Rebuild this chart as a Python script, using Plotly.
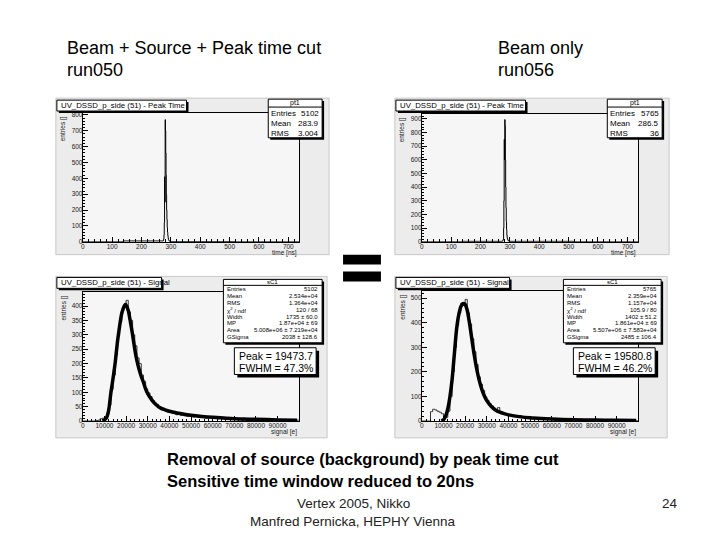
import plotly.graph_objects as go

FONT = "Liberation Sans, Arial, sans-serif"

# ---------------- data ----------------
# Peak time histograms (1 ns bins, bin centres)
time_bins = [274, 275, 276, 277, 278, 279, 280, 281, 282, 283, 284, 285, 286,
             287, 288, 289, 290, 291, 292, 293, 294, 295, 296, 297, 298, 299]
time_counts_run050 = [5, 10, 20, 45, 120, 410, 250, 770, 700, 560, 420, 300, 200,
                      140, 90, 60, 40, 25, 15, 10, 8, 6, 4, 3, 2, 1]
time_counts_run056 = [3, 5, 8, 12, 20, 100, 300, 750, 600, 895, 850, 600, 400,
                      250, 150, 90, 50, 30, 20, 15, 10, 8, 6, 5, 4, 3]

# Signal histograms (1000 e bins, centres 500 ... 99500)
signal_bins = [500 + 1000 * i for i in range(100)]
signal_counts_run050 = [
    0, 0, 0, 0, 0, 0, 2, 3, 8, 10,
    8, 22, 55, 110, 160, 230, 295, 345, 385, 400,
    420, 380, 350, 300, 262, 220, 200, 160, 138, 112,
    98, 85, 72, 62, 58, 48, 42, 40, 35, 32,
    30, 28, 26, 22, 24, 20, 19, 18, 16, 17,
    15, 14, 16, 13, 12, 13, 11, 10, 11, 12,
    9, 10, 8, 9, 11, 8, 7, 9, 8, 7,
    7, 6, 8, 6, 10, 5, 6, 7, 5, 6,
    5, 6, 4, 5, 6, 4, 5, 3, 4, 5,
    4, 3, 4, 3, 4, 2, 3, 3, 2, 3]
signal_counts_run056 = [
    0, 0, 0, 0, 38, 48, 45, 40, 36, 30,
    20, 15, 40, 100, 200, 300, 390, 440, 480, 470,
    495, 440, 395, 335, 282, 230, 180, 150, 125, 98,
    85, 72, 62, 52, 45, 55, 38, 34, 30, 28,
    25, 24, 22, 20, 18, 22, 16, 15, 14, 13,
    12, 12, 11, 10, 11, 9, 9, 8, 9, 8,
    8, 7, 7, 6, 7, 6, 6, 5, 6, 5,
    5, 5, 4, 5, 4, 4, 5, 3, 4, 4,
    3, 4, 3, 3, 3, 2, 3, 3, 2, 3,
    2, 2, 3, 2, 2, 2, 1, 2, 2, 1]

# Landau (x) Gauss fit curves
fit_x = [9000, 10000, 11000, 12000, 13000, 14000, 15000, 16000, 17000, 18000,
         19000, 19500, 20000, 21000, 22000, 23000, 24000, 25000, 26000, 27000,
         28000, 29000, 30000, 32000, 34000, 36000, 38000, 40000, 45000, 50000,
         55000, 60000, 70000, 80000, 90000, 99000]
fit_run050 = [1, 4, 12, 40, 100, 150, 205, 275, 330, 375,
              398, 405, 403, 385, 345, 300, 250, 210, 180, 155,
              135, 112, 95, 72, 56, 45, 39, 34, 26, 20,
              16, 13, 8, 6, 4, 3]
fit_run056 = [1, 5, 20, 50, 100, 170, 270, 370, 430, 465,
              478, 478, 475, 450, 400, 340, 280, 228, 185, 150,
              122, 100, 83, 60, 45, 36, 30, 25, 18, 13,
              10, 8, 5, 4, 3, 2]

time_stats_run050 = [("Entries", "5102"), ("Mean", "283.9"), ("RMS", "3.004")]
time_stats_run056 = [("Entries", "5765"), ("Mean", "286.5"), ("RMS", "36")]
sig_stats_run050 = [("Entries", "5102"), ("Mean", "2.534e+04"), ("RMS", "1.364e+04"),
                    ("χ<sup>2</sup> / ndf", "120 / 68"), ("Width", "1735 ± 60.0"),
                    ("MP", "1.87e+04 ± 69"), ("Area", "5.008e+06 ± 7.219e+04"),
                    ("GSigma", "2038 ± 128.6")]
sig_stats_run056 = [("Entries", "5765"), ("Mean", "2.359e+04"), ("RMS", "1.157e+04"),
                    ("χ<sup>2</sup> / ndf", "105.9 / 80"), ("Width", "1402 ± 51.2"),
                    ("MP", "1.861e+04 ± 69"), ("Area", "5.507e+06 ± 7.583e+04"),
                    ("GSigma", "2485 ± 106.4")]
peak_run050 = ("Peak = 19473.7", "FWHM = 47.3%")
peak_run056 = ("Peak = 19580.8", "FWHM = 46.2%")

# ---------------- helpers ----------------
# the page has an 8 px body margin, so the figure is 704x524 placed at (8, 8);
# all layout coordinates below are given in page pixels of the 720x540 window
OFF = 8
W, H = 720 - 2 * OFF, 540 - 2 * OFF
def px(x): return (x - OFF) / W
def py(y): return 1 - (y - OFF) / H

shapes = []
annotations = []

def rect(x0, y0, x1, y1, fill, line="black", lw=1, layer="above"):
    shapes.append(dict(type="rect", xref="paper", yref="paper",
                       x0=px(x0), x1=px(x1), y0=py(y1), y1=py(y0),
                       fillcolor=fill, line=dict(color=line, width=lw), layer=layer))

def hline(x0, x1, y, lw=1):
    shapes.append(dict(type="line", xref="paper", yref="paper",
                       x0=px(x0), x1=px(x1), y0=py(y), y1=py(y),
                       line=dict(color="black", width=lw)))

def text(x, y, s, size, xanchor="left", yanchor="middle", bold=False, color="black", angle=0):
    if bold:
        s = "<b>" + s + "</b>"
    annotations.append(dict(xref="paper", yref="paper", x=px(x), y=py(y), text=s,
                            showarrow=False, xanchor=xanchor, yanchor=yanchor,
                            font=dict(size=size, family=FONT, color=color),
                            textangle=angle, borderpad=0))

fig = go.Figure()

panels = [
    dict(ax="", box=(81, 112, 298, 242), outer=(54, 97, 328, 255), kind="time",
         title=(55, 99, 185, 110, "UV_DSSD_p_side (51) - Peak Time"),
         stats=(267, 98, 321, 137, "pt1", time_stats_run050),
         x=time_bins, y=time_counts_run050, yr=812, ydt=100, ymin=20),
    dict(ax="2", box=(421, 113, 638, 242), outer=(394, 97, 669, 255), kind="time",
         title=(395, 99, 525, 110, "UV_DSSD_p_side (51) - Peak Time"),
         stats=(607, 98, 662, 137, "pt1", time_stats_run056),
         x=time_bins, y=time_counts_run056, yr=936, ydt=100, ymin=20),
    dict(ax="3", box=(81, 293, 298, 423), outer=(54, 277, 326, 440), kind="sig",
         title=(55, 278, 160, 289, "UV_DSSD_p_side (51) - Signal"),
         stats=(222, 280, 321, 344, "sC1", sig_stats_run050),
         peak=(233, 349, 315, 376, peak_run050),
         x=signal_bins, y=signal_counts_run050, fit=fit_run050, yr=448, ydt=50, ymin=10),
    dict(ax="4", box=(421, 292, 638, 423), outer=(394, 277, 667, 440), kind="sig",
         title=(395, 278, 509, 289, "UV_DSSD_p_side (51) - Signal"),
         stats=(563, 280, 661, 344, "sC1", sig_stats_run056),
         peak=(573, 349, 655, 376, peak_run056),
         x=signal_bins, y=signal_counts_run056, fit=fit_run056, yr=528, ydt=100, ymin=20),
]

axis_common = dict(showgrid=False, zeroline=False, showline=True, linecolor="black",
                   linewidth=1, mirror=True, ticks="inside", ticklen=5, tickwidth=1,
                   tickcolor="black", ticklabelstandoff=-2,
                   tickfont=dict(size=6.5, family=FONT, color="#222"))

layout_axes = {}
for p in panels:
    x0, y0, x1, y1 = p["box"]
    ox0, oy0, ox1, oy1 = p["outer"]
    rect(ox0, oy0, ox1, oy1, "#ececec", line="#c8c8c8", lw=1, layer="below")
    rect(x0, y0, x1, y1, "#f6f6f6", line="rgba(0,0,0,0)", lw=0, layer="below")

    xa = "x" + p["ax"]
    ya = "y" + p["ax"]
    if p["kind"] == "time":
        xr, xdt, xmin = 737, 100, 20
        hx = [0] + p["x"] + [737]
        hy = [0] + p["y"] + [0]
        fig.add_trace(go.Scatter(x=hx, y=hy, mode="lines", line=dict(color="black", width=1, shape="hvh"),
                                 xaxis=xa, yaxis=ya, showlegend=False, hoverinfo="skip"))
        xlabel = "time [ns]"
    else:
        xr, xdt, xmin = 99950, 10000, 2000
        hx = [0] + p["x"] + [99950]
        hy = [0] + p["y"] + [p["y"][-1]]
        fig.add_trace(go.Scatter(x=hx, y=hy, mode="lines", line=dict(color="#333", width=1, shape="hvh"),
                                 xaxis=xa, yaxis=ya, showlegend=False, hoverinfo="skip"))
        fig.add_trace(go.Scatter(x=fit_x, y=p["fit"], mode="lines",
                                 line=dict(color="black", width=3.5, shape="spline", smoothing=0.6),
                                 xaxis=xa, yaxis=ya, showlegend=False, hoverinfo="skip"))
        xlabel = "signal [e]"

    key = p["ax"]
    layout_axes["xaxis" + key] = dict(axis_common, domain=[px(x0), px(x1)], range=[0, xr],
                                      anchor=ya, dtick=xdt, tick0=0, tickformat="d",
                                      minor=dict(ticks="inside", ticklen=2.5, tickcolor="black", dtick=xmin))
    layout_axes["yaxis" + key] = dict(axis_common, domain=[py(y1), py(y0)], range=[0, p["yr"]],
                                      anchor=xa, dtick=p["ydt"], tick0=0, tickformat="d",
                                      minor=dict(ticks="inside", ticklen=2.5, tickcolor="black", dtick=p["ymin"]))

    # axis titles
    text(x1 - 1, y1 + 11, xlabel, 6.5, xanchor="right", color="#222")
    text(ox0 + 8, y0 + 2, "entries []", 6.5, xanchor="center", yanchor="top", color="#222", angle=-90)

    # title box with shadow
    tx0, ty0, tx1, ty1, ttl = p["title"]
    rect(tx0 + 2, ty0 + 2, tx1 + 2, ty1 + 2, "black", line="black", lw=0)
    rect(tx0, ty0, tx1, ty1, "white", line="black", lw=1)
    text(tx0 + 3, (ty0 + ty1) / 2, ttl, 7.8)

    # stats box
    sx0, sy0, sx1, sy1, hdr, rows = p["stats"]
    rect(sx0 + 2, sy0 + 2, sx1 + 2, sy1 + 2, "black", line="black", lw=0)
    rect(sx0, sy0, sx1, sy1, "white", line="black", lw=1)
    if p["kind"] == "time":
        hline(sx0, sx1, sy0 + 8)
        text((sx0 + sx1) / 2, sy0 + 4, hdr, 7, xanchor="center")
        for i, (lab, val) in enumerate(rows):
            yy = sy0 + 14 + i * 10.5
            text(sx0 + 2, yy, lab, 8)
            text(sx1 - 2, yy, val, 8, xanchor="right")
    else:
        hline(sx0, sx1, sy0 + 6)
        text((sx0 + sx1) / 2, sy0 + 3, hdr, 6, xanchor="center")
        for i, (lab, val) in enumerate(rows):
            yy = sy0 + 10 + i * 6.9
            text(sx0 + 3, yy, lab, 6)
            text(sx1 - 3, yy, val, 6, xanchor="right")
        bx0, by0, bx1, by1, (l1, l2) = p["peak"]
        rect(bx0 + 3, by0 + 3, bx1 + 3, by1 + 3, "black", line="black", lw=0)
        rect(bx0, by0, bx1, by1, "white", line="black", lw=1)
        text(bx0 + 4, by0 + 8, l1, 10.5)
        text(bx0 + 4, by0 + 20, l2, 10.5)

# equals sign
rect(342, 255, 380, 265, "black", line="black", lw=0)
rect(342, 272, 380, 282, "black", line="black", lw=0)

# slide texts
text(64, 46.5, "Beam + Source + Peak time cut", 18)
text(64, 68.5, "run050", 18)
text(496, 46.5, "Beam only", 18)
text(496, 68.5, "run056", 18)
text(164, 461, "Removal of source (background) by peak time cut", 16.5, bold=True)
text(164, 484, "Sensitive time window reduced to 20ns", 16.5, bold=True)
text(352, 506, "Vertex 2005, Nikko", 13.5, xanchor="center", color="#222")
text(352, 524, "Manfred Pernicka, HEPHY Vienna", 13.5, xanchor="center", color="#222")
text(670, 506, "24", 13.5, xanchor="center", color="#222")

fig.update_layout(width=W, height=H, margin=dict(l=0, r=0, t=0, b=0),
                  paper_bgcolor="white", plot_bgcolor="rgba(0,0,0,0)",
                  shapes=shapes, annotations=annotations, showlegend=False,
                  **layout_axes)

fig.write_html("out.html")
